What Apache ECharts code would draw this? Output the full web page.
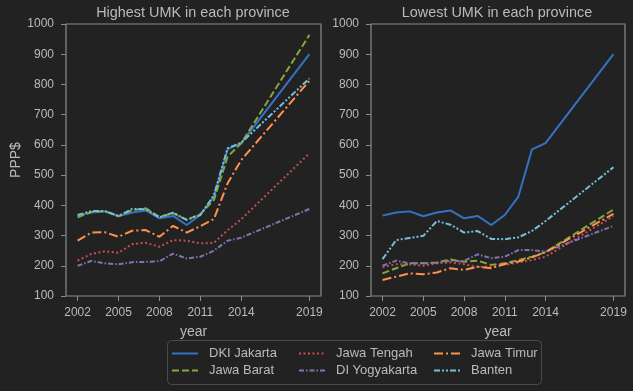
<!DOCTYPE html>
<html><head><meta charset="utf-8">
<script src="https://cdn.jsdelivr.net/npm/echarts@6/dist/echarts.min.js"></script>
<style>html,body{margin:0;padding:0;background:#222222;}#c{width:633px;height:391px;}</style>
</head><body><div id="c"></div>
<script>
const years = [2002,2003,2004,2005,2006,2007,2008,2009,2010,2011,2012,2013,2014,2019];
const xTicks = [2002,2005,2008,2011,2014,2019];
const names = ['DKI Jakarta','Jawa Barat','Jawa Tengah','DI Yogyakarta','Jawa Timur','Banten'];
const titles = ['Highest UMK in each province','Lowest UMK in each province'];

const hiDKI     = [366,376,380,364,376,383,357,365,335,368,429,585,606,900];
const hiJabar   = [360,378,381,364,384,390,362,374,352,371,418,561,605,964];
const hiJateng  = [217,239,248,243,272,276,263,285,283,274,276,318,354,572];
const hiDIY     = [200,216,208,205,212,213,215,240,224,230,250,283,293,388];
const hiJatim   = [283,310,311,296,316,318,296,332,310,331,355,473,550,812];
const hiBanten  = [368,381,381,365,388,387,360,376,352,368,434,589,607,820];

const loDKI     = [366,376,380,364,376,383,357,365,335,368,429,585,606,900];
const loJabar   = [175,192,208,208,211,221,213,217,203,208,219,230,245,386];
const loJateng  = [195,205,205,200,208,211,205,197,197,203,211,219,230,364];
const loDIY     = [200,217,208,208,210,216,216,238,225,230,252,252,247,332];
const loJatim   = [153,164,175,172,178,192,186,197,192,206,214,228,245,372];
const loBanten  = [222,285,292,299,348,336,310,315,289,288,294,315,348,526];

const colors = ['#3572C6','#83a83b','#c44e52','#8172b2','#ff914d','#77BEDB'];
const dashes = ['solid',[7,3],[2,2.5],[5,2,1.5,2],[9,3,2,3],[6,2,2,2,2,2]];
const hiData = [hiDKI,hiJabar,hiJateng,hiDIY,hiJatim,hiBanten];
const loData = [loDKI,loJabar,loJateng,loDIY,loJatim,loBanten];

const txt = '#bbbbbb';
const frame = '#8a8a8a';
const grids = [
  {left:66, top:24, width:255, height:272, show:true, borderColor:frame, borderWidth:1.2, backgroundColor:'#222222'},
  {left:371, top:24, width:254, height:272, show:true, borderColor:frame, borderWidth:1.2, backgroundColor:'#222222'}
];
function xAx(i){
  return {type:'value', gridIndex:i, min:2001.15, max:2019.85,
    name:'year', nameLocation:'middle', nameGap:29, nameTextStyle:{color:txt, fontSize:14, fontFamily:'Liberation Sans'},
    axisLine:{show:false}, splitLine:{show:false},
    axisTick:{show:true, length:5, lineStyle:{color:frame}, customValues:xTicks},
    axisLabel:{color:txt, fontSize:12, fontFamily:'Liberation Sans', margin:11, customValues:xTicks, formatter:v=>String(v)}};
}
function yAx(i){
  const o = {type:'value', gridIndex:i, min:100, max:1000, interval:100,
    axisLine:{show:false}, splitLine:{show:false},
    axisTick:{show:true, length:5, lineStyle:{color:frame}},
    axisLabel:{color:txt, fontSize:12, fontFamily:'Liberation Sans', margin:12, formatter:v=>String(v)}};
  if(i===0){ o.name='PPP$'; o.nameLocation='middle'; o.nameGap=38; o.nameRotate=90;
    o.nameTextStyle={color:txt, fontSize:14, fontFamily:'Liberation Sans'}; }
  return o;
}
const series = [];
[hiData, loData].forEach((set, gi)=>{
  set.forEach((arr, k)=>{
    series.push({name:names[k], type:'line', xAxisIndex:gi, yAxisIndex:gi, symbol:'none',
      data: years.map((y,j)=>[y, arr[j]]),
      color: colors[k],
      lineStyle:{width:2, type:dashes[k], color:colors[k]}, z: 2});
  });
});
function leg(left, items){
  return {orient:'vertical', left:left, top:342, itemWidth:26, itemHeight:14, itemGap:4,
    data:items,
    itemStyle:{color:'transparent', borderWidth:0, opacity:0},
    textStyle:{color:txt, fontSize:13, fontFamily:'Liberation Sans', padding:[0,0,0,6]}};
}
const option = {
  backgroundColor:'#222222',
  animation:false,
  title: titles.map((t,i)=>({text:t, left: i===0 ? 188 : 492, top:1, textAlign:'center',
    textStyle:{color:txt, fontSize:14.4, fontWeight:'normal', fontFamily:'Liberation Sans'}})),
  grid: grids,
  xAxis:[xAx(0), xAx(1)],
  yAxis:[yAx(0), yAx(1)],
  legend:[leg(166,['DKI Jakarta','Jawa Barat']), leg(293,['Jawa Tengah','DI Yogyakarta']), leg(428,['Jawa Timur','Banten'])],
  graphic:[{type:'rect', left:167, top:340, shape:{width:374, height:44, r:4}, z:-1,
    style:{fill:'#222222', stroke:'#4a4a4a', lineWidth:1}}],
  series: series
};
echarts.init(document.getElementById('c')).setOption(option);
</script></body></html>
